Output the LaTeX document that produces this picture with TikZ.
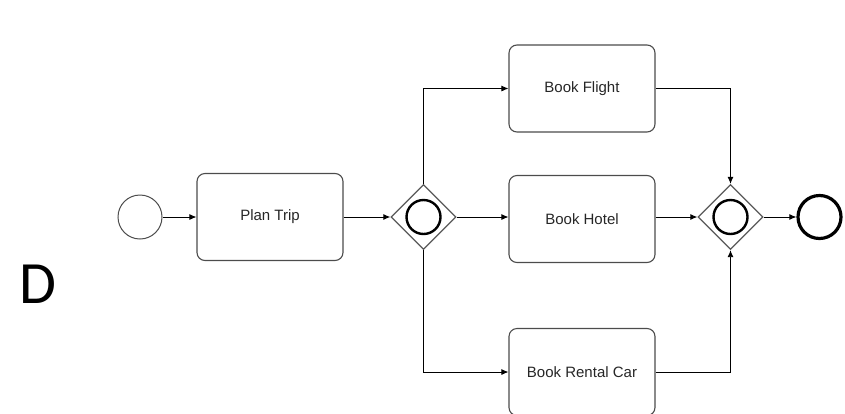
\documentclass[tikz,border=0pt]{standalone}
\usepackage{fontspec}
\setmainfont{Liberation Sans}
\newfontfamily\bigfont{Carlito}
\usetikzlibrary{arrows.meta,shapes.geometric}
\begin{document}
\begin{tikzpicture}[x=1pt,y=-1pt,
  task/.style={draw=black!70,line width=1.1pt,rounded corners=8pt,minimum width=146pt,minimum height=87pt,inner sep=0pt,font=\fontsize{15}{17}\selectfont,text=black!85},
  gate/.style={draw=black!65,line width=1.3pt,diamond,minimum width=65pt,minimum height=65pt,inner sep=0pt,aspect=1},
  gcirc/.style={draw=black,line width=2.4pt,circle,minimum size=34pt,inner sep=0pt},
  flow/.style={draw=black,line width=0.9pt,-{Latex[length=7pt,width=6pt]}}]
\useasboundingbox (0,0) rectangle (845,413);
\node[circle,draw=black!70,line width=1pt,minimum size=44pt,inner sep=0pt] (start) at (140,217) {};
\node[task] (plan) at (270,217) {\raisebox{2pt}{Plan Trip}};
\node[gate] (g1) at (423.5,217) {};
\node[gcirc] (g1c) at (423.5,217) {};
\node[task] (flight) at (582,88.5) {Book Flight};
\node[task] (hotel) at (582,219) {Book Hotel};
\node[task] (car) at (582,372) {Book Rental Car};
\node[gate] (g2) at (730.5,217) {};
\node[gcirc] (g2c) at (730.5,217) {};
\node[circle,draw=black,line width=3.2pt,minimum size=43pt,inner sep=0pt] (end) at (819.5,217) {};
\node[font=\bigfont\fontsize{60}{60}\selectfont,anchor=base] (d) at (38,303) {D};
\coordinate (c1) at (423.5,88.5);
\coordinate (c2) at (423.5,372);
\coordinate (c3) at (730.5,88.5);
\coordinate (c4) at (730.5,372);
\draw[flow] (start) -- (plan);
\draw[flow] (plan) -- (g1.west);
\draw[flow] (g1.east) -- (hotel.west |- g1.east);
\draw[flow] (g1.north) -- (c1) -- (flight.west);
\draw[flow] (g1.south) -- (c2) -- (car.west);
\draw[flow] (flight.east) -- (c3) -- (g2.north);
\draw[flow] (car.east) -- (c4) -- (g2.south);
\draw[flow] (hotel.east |- g2.west) -- (g2.west);
\draw[flow] (g2.east) -- (end);
\end{tikzpicture}
\end{document}
